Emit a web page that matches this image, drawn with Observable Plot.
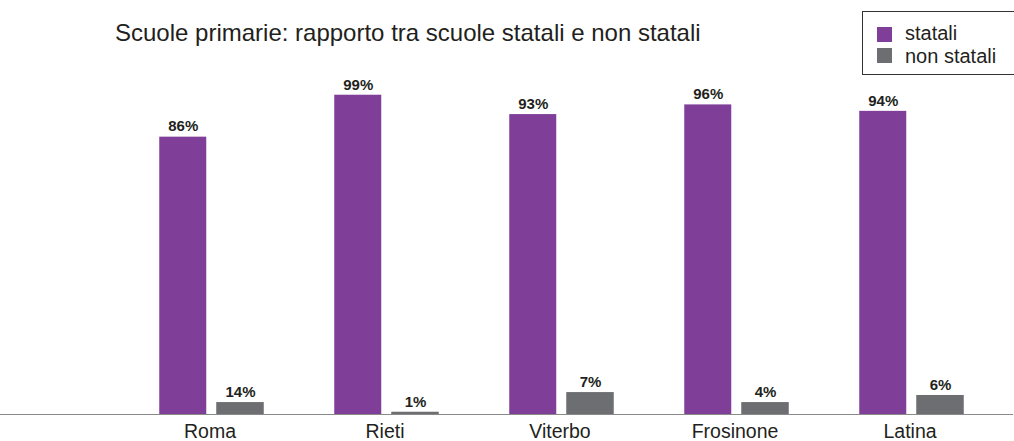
<!DOCTYPE html>
<html>
<head>
<meta charset="utf-8">
<script src="https://cdn.jsdelivr.net/npm/d3@7"></script>
<script src="https://cdn.jsdelivr.net/npm/@observablehq/plot@0.6"></script>
<style>
  html, body { margin: 0; padding: 0; background: #fff; }
  #wrap { position: relative; width: 1014px; height: 441px; overflow: hidden; font-family: "Liberation Sans", Arial, Helvetica, sans-serif; }
  #title { position: absolute; left: 115px; top: 21px; font-size: 24px; line-height: 24px; color: #231f20; white-space: nowrap; }
  #legend { position: absolute; left: 862px; top: 11px; width: 170px; height: 64px; border: 1px solid #333; box-sizing: border-box; background: #fff; }
  .sw { position: absolute; width: 15px; height: 15px; left: 14px; }
  .lt { position: absolute; left: 42px; font-size: 20px; line-height: 20px; color: #231f20; white-space: nowrap; }
  svg { position: absolute; left: 0; top: 0; }
</style>
</head>
<body>
<div id="wrap"></div>
<script>
const regions = ["Roma", "Rieti", "Viterbo", "Frosinone", "Latina"];
const statali = [86, 99, 93, 96, 94];
const nonStatali = [14, 1, 7, 4, 6];
// bar heights of "non statali" as drawn in the reference (Roma's bar is drawn much shorter than its 14% label)
const nonStataliBars = [3.7, 0.7, 6.8, 3.7, 5.9];
const seriesNames = ["statali", "non statali"];
const seriesColors = ["#7f3f98", "#6d6e71"];
const titleText = "Scuole primarie: rapporto tra scuole statali e non statali";

const dataS = regions.map((r, i) => ({region: r, value: statali[i], label: statali[i] + "%"}));
const dataN = regions.map((r, i) => ({region: r, value: nonStataliBars[i], label: nonStatali[i] + "%"}));

const plot = Plot.plot({
  width: 1014,
  height: 441,
  marginLeft: 0,
  marginRight: 1,
  marginTop: 0,
  marginBottom: 27,
  style: {fontFamily: "'Liberation Sans', Arial, Helvetica, sans-serif", color: "#231f20", background: "transparent"},
  x: {domain: regions, range: [122.75, 1000], padding: 0, label: null},
  y: {domain: [0, 100], range: [414, 91.5], axis: null},
  marks: [
    Plot.barY(dataS, {x: "region", y: "value", fill: seriesColors[0], insetLeft: 35.25, insetRight: 92.75}),
    Plot.barY(dataN, {x: "region", y: "value", fill: seriesColors[1], insetLeft: 92.25, insetRight: 35.25}),
    Plot.text(dataS, {x: "region", y: "value", text: "label", dx: -28.75, dy: -10.5, fontSize: 15, fontWeight: "bold", fill: "#231f20"}),
    Plot.text(dataN, {x: "region", y: "value", text: "label", dx: 28.5, dy: -10.5, fontSize: 15, fontWeight: "bold", fill: "#231f20"}),
    Plot.ruleY([0], {stroke: "#8a8a8a", strokeWidth: 1.2}),
    Plot.axisX({tickSize: 0, tickPadding: 9.5, fontSize: 19.5, dx: -2, label: null, fill: "#231f20"})
  ]
});

const wrap = document.getElementById("wrap");
wrap.appendChild(plot);

const t = document.createElement("div");
t.id = "title";
t.textContent = titleText;
wrap.appendChild(t);

const lg = document.createElement("div");
lg.id = "legend";
seriesNames.forEach((n, i) => {
  const sw = document.createElement("div");
  sw.className = "sw";
  sw.style.top = (i === 0 ? 14.5 : 35.5) + "px";
  sw.style.background = seriesColors[i];
  lg.appendChild(sw);
  const lt = document.createElement("div");
  lt.className = "lt";
  lt.style.top = (i === 0 ? 11 : 34) + "px";
  lt.textContent = n;
  lg.appendChild(lt);
});
wrap.appendChild(lg);
</script>
</body>
</html>
